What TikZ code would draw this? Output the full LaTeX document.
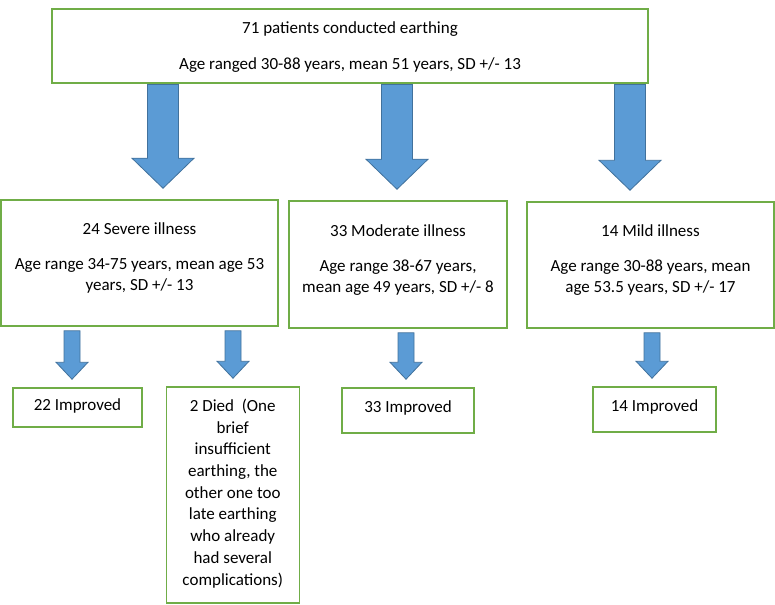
\documentclass[tikz,border=0pt]{standalone}
\usepackage{fontspec}
\setmainfont{Carlito}
\usetikzlibrary{calc}

\definecolor{boxgreen}{HTML}{70AD47}
\definecolor{arrowblue}{HTML}{5B9BD5}
\definecolor{arrowedge}{HTML}{41719C}

% block arrow: parent, child, x, start gap, end gap, half shaft, half head, head length
\newcommand{\blockarrow}[8]{%
  \path[blockarrow] let \p1=(#1.south), \p2=(#2.north) in
    (#3pt-#6,\y1-#4) -- (#3pt+#6,\y1-#4) -- (#3pt+#6,\y2+#5+#8) -- (#3pt+#7,\y2+#5+#8)
    -- (#3pt,\y2+#5) -- (#3pt-#7,\y2+#5+#8) -- (#3pt-#6,\y2+#5+#8) -- cycle;}
\newcommand{\bigarrow}[3]{\blockarrow{#1}{#2}{#3}{0.75pt}{11pt}{15.5pt}{31pt}{30pt}}
\newcommand{\smallarrow}[3]{\blockarrow{#1}{#2}{#3}{4pt}{8pt}{8pt}{16pt}{17pt}}

\begin{document}
\begin{tikzpicture}[x=1pt, y=-1pt,
    box/.style={draw=boxgreen, line width=1.5pt, fill=white, inner sep=0pt},
    txt/.style={align=center, inner sep=0pt, anchor=north, font=\fontsize{17}{21.7}\selectfont},
    blockarrow/.style={fill=arrowblue, draw=arrowedge, line width=0.8pt, line join=miter}]
  \useasboundingbox (0,0) rectangle (775,604);
  % Caixas
  \node[box, minimum width=596pt, minimum height=74pt] (top) at (350,46) {};
  \node[box, minimum width=277pt, minimum height=126pt] (sev) at (139.5,263) {};
  \node[box, minimum width=218pt, minimum height=127pt] (mod) at (398,264.5) {};
  \node[box, minimum width=247pt, minimum height=126pt] (mild) at (650.5,265) {};
  \node[box, minimum width=129pt, minimum height=39pt] (imp1) at (77.5,407.5) {};
  \node[box, minimum width=133pt, minimum height=216pt] (died) at (232.75,495) {};
  \node[box, minimum width=132pt, minimum height=45pt] (imp2) at (408,410.5) {};
  \node[box, minimum width=123pt, minimum height=45pt] (imp3) at (654.5,409.5) {};
  % Textos
  \node[txt] (toptxt) at ([yshift=-9.8pt]top.north) {\strut 71 patients conducted earthing\\[14pt]Age ranged 30-88 years, mean 51 years, SD +/- 13};
  \node[txt] (sevtxt) at ([yshift=-19.8pt]sev.north) {\strut 24 Severe illness\\[13pt]Age range 34-75 years, mean age 53\\years, SD +/- 13};
  \node[txt] (modtxt) at ([yshift=-20.8pt]mod.north) {\strut 33 Moderate illness\\[13pt]Age range 38-67 years,\\mean age 49 years, SD +/- 8};
  \node[txt] (mildtxt) at ([yshift=-19.8pt]mild.north) {\strut 14 Mild illness\\[13pt]Age range 30-88 years, mean\\age 53.5 years, SD +/- 17};
  \node[txt] (imp1txt) at ([yshift=-7.8pt]imp1.north) {\strut 22 Improved};
  \node[txt] (diedtxt) at ([yshift=-9.8pt]died.north) {\strut 2 Died\ \ (One\\brief\\insufficient\\earthing, the\\other one too\\late earthing\\who already\\had several\\complications)};
  \node[txt] (imp2txt) at ([yshift=-9.8pt]imp2.north) {\strut 33 Improved};
  \node[txt] (imp3txt) at ([yshift=-9.8pt]imp3.north) {\strut 14 Improved};
  % Setas grandes
  \bigarrow{top}{sev}{163}
  \bigarrow{top}{mod}{397}
  \bigarrow{top}{mild}{630}
  % Setas pequenas
  \smallarrow{sev}{imp1}{72}
  \smallarrow{sev}{died}{233}
  \smallarrow{mod}{imp2}{406}
  \smallarrow{mild}{imp3}{652}
\end{tikzpicture}
\end{document}
